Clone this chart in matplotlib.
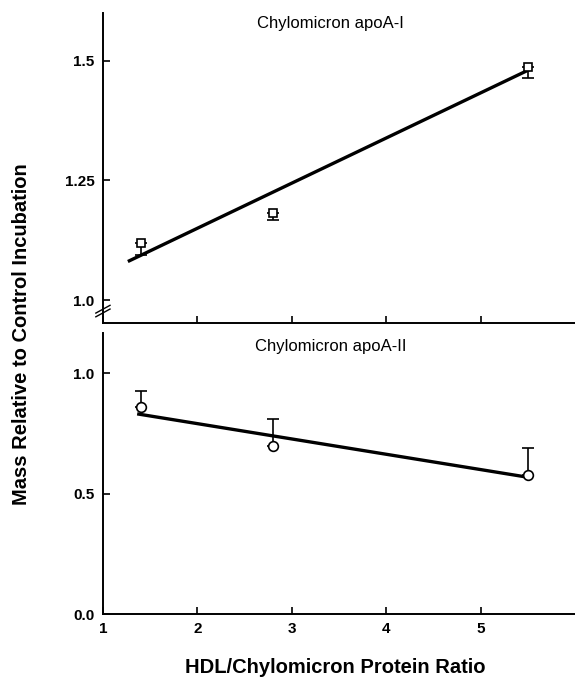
import matplotlib
matplotlib.use("Agg")
import matplotlib.pyplot as plt
import numpy as np

plt.rcParams['font.family'] = ['Liberation Sans', 'DejaVu Sans']

# Data
ratio = [1.4, 2.8, 5.5]
apoA1_mean = [1.119, 1.181, 1.488]
apoA1_err = [0.025, 0.014, 0.023]   # lower error only
apoA1_fit_x = [1.28, 5.5]
apoA1_fit_y = [1.082, 1.480]

apoA2_mean = [0.859, 0.697, 0.577]
apoA2_err = [0.066, 0.112, 0.112]   # upper error only
apoA2_fit_x = [1.38, 5.5]
apoA2_fit_y = [0.830, 0.568]

x_ticks = [1, 2, 3, 4, 5]
top_yticks = [1.0, 1.25, 1.5]
bot_yticks = [0.0, 0.5, 1.0]

fig = plt.figure(figsize=(5.75, 6.8), dpi=100)
ax1 = fig.add_axes([0.179, 0.525, 0.821, 0.456])
ax2 = fig.add_axes([0.179, 0.097, 0.821, 0.413])

for ax in (ax1, ax2):
    for s in ('top', 'right'):
        ax.spines[s].set_visible(False)
    for s in ('left', 'bottom'):
        ax.spines[s].set_linewidth(1.4)
    ax.set_xlim(1, 6)
    ax.set_xticks(x_ticks)
    ax.tick_params(direction='in', length=5, width=1.2, labelsize=11, pad=6)

# Top panel
ax1.set_ylim(0.952, 1.6)
ax1.set_yticks(top_yticks)
ax1.set_yticklabels(['1.0', '1.25', '1.5'], fontweight='bold')
ax1.set_xticklabels([])
ax1.plot(apoA1_fit_x, apoA1_fit_y, color='black', lw=2.4)
ax1.errorbar(ratio, apoA1_mean, yerr=[apoA1_err, [0, 0, 0]], fmt='none',
             ecolor='black', elinewidth=1.2, capsize=4, capthick=1.2)
ax1.plot(ratio, apoA1_mean, 's', ms=6, mfc='white', mec='black', mew=1.2, zorder=3)
ax1.text(0.483, 0.99, 'Chylomicron apoA-I', transform=ax1.transAxes,
         ha='center', va='top', fontsize=12)

# axis break marks on top panel left spine
for dy in (0.0, 0.012):
    ax1.plot([-0.015, 0.015], [0.02 + dy, 0.045 + dy], transform=ax1.transAxes,
             color='black', lw=1.0, clip_on=False)

# Bottom panel
ax2.set_ylim(0, 1.166)
ax2.set_yticks(bot_yticks)
ax2.set_yticklabels(['0.0', '0.5', '1.0'], fontweight='bold')
ax2.set_xticklabels([str(t) for t in x_ticks], fontweight='bold')
ax2.plot(apoA2_fit_x, apoA2_fit_y, color='black', lw=2.4)
ax2.errorbar(ratio, apoA2_mean, yerr=[[0, 0, 0], apoA2_err], fmt='none',
             ecolor='black', elinewidth=1.2, capsize=4, capthick=1.2)
ax2.plot(ratio, apoA2_mean, 'o', ms=7, mfc='white', mec='black', mew=1.2, zorder=3)
ax2.text(0.483, 0.98, 'Chylomicron apoA-II', transform=ax2.transAxes,
         ha='center', va='top', fontsize=12)

fig.text(0.583, 0.018, 'HDL/Chylomicron Protein Ratio', ha='center', va='center',
         fontsize=14.5, fontweight='bold')
fig.text(0.038, 0.509, 'Mass Relative to Control Incubation', ha='center', va='center',
         rotation=90, fontsize=14.5, fontweight='bold')

fig.savefig('out.png', dpi=100)
